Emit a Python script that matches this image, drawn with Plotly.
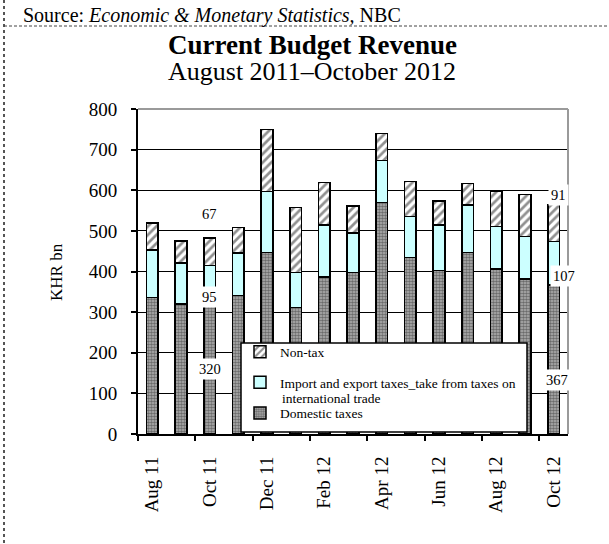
import plotly.graph_objects as go

# Monthly current budget revenue, KHR bn
months = ["Aug 11", "Sep 11", "Oct 11", "Nov 11", "Dec 11", "Jan 12", "Feb 12", "Mar 12",
          "Apr 12", "May 12", "Jun 12", "Jul 12", "Aug 12", "Sep 12", "Oct 12"]
domestic_taxes = [336, 320, 320, 341, 447, 312, 386, 398, 570, 435, 402, 447, 406, 382, 367]
trade_taxes = [117, 101, 95, 104, 150, 85, 129, 97, 103, 100, 113, 117, 105, 104, 107]
non_tax = [67, 54, 67, 63, 153, 160, 104, 66, 67, 86, 59, 53, 86, 104, 91]

# axis labels shown on every second month
tick_idx = list(range(0, len(months), 2))
tick_text = [months[i] for i in tick_idx]

W, H = 609, 544
ML, MR, MT, MB = 138, 41, 109, 110
PW, PH = W - ML - MR, H - MT - MB
SERIF = "Liberation Serif, Times New Roman, serif"


def xp(px):
    return (px - ML) / PW


def yp(py):
    return (H - MB - py) / PH


x = list(range(len(months)))
fig = go.Figure()
fig.add_bar(x=x, y=domestic_taxes, name="Domestic taxes", legendgroup="c", legendrank=3,
            marker=dict(color="#b4b4b4", line=dict(color="black", width=1.5),
                        pattern=dict(shape=".", fgcolor="#222222", size=3, solidity=0.6)))
fig.add_bar(x=x, y=trade_taxes, name="Import and export taxes_take from taxes on",
            legendgroup="b", legendrank=2,
            marker=dict(color="#ccffff", line=dict(color="black", width=1.5)))
fig.add_bar(x=x, y=non_tax, name="Non-tax", legendgroup="a", legendrank=1,
            marker=dict(color="white", line=dict(color="black", width=1.5),
                        pattern=dict(shape="/", fgcolor="#222222", bgcolor="white",
                                     size=6, solidity=0.45)))

# value labels for Oct 11 and Oct 12
annotations = []
label_font = dict(family=SERIF, size=14.5, color="black")
for i, shifts in ((2, [(0, 0), (0, -12), (0, 38)]), (14, [(3, -21), (10, -13), (5, 28)])):
    base = 0
    for val, (dx, dy) in zip((domestic_taxes[i], trade_taxes[i], non_tax[i]), shifts):
        annotations.append(dict(x=i, y=base + val / 2, text=str(val), showarrow=False,
                                xshift=dx, yshift=dy, bgcolor="white", borderpad=2,
                                font=label_font))
        base += val

# header texts
annotations += [
    dict(x=xp(21), y=yp(15), xref="paper", yref="paper", xanchor="left", yanchor="middle",
         text="Source: <i>Economic & Monetary Statistics,</i> NBC", showarrow=False,
         font=dict(family=SERIF, size=20, color="black")),
    dict(x=xp(312), y=yp(45), xref="paper", yref="paper", xanchor="center", yanchor="middle",
         text="<b>Current Budget Revenue</b>", showarrow=False,
         font=dict(family=SERIF, size=27, color="black")),
    dict(x=xp(312), y=yp(71), xref="paper", yref="paper", xanchor="center", yanchor="middle",
         text="August 2011–October 2012", showarrow=False,
         font=dict(family=SERIF, size=26, color="black")),
    dict(x=xp(56), y=yp(272), xref="paper", yref="paper", xanchor="center", yanchor="middle",
         text="KHR bn", textangle=-90, showarrow=False,
         font=dict(family=SERIF, size=17, color="black")),
    dict(x=xp(280), y=yp(398.5), xref="paper", yref="paper", xanchor="left", yanchor="middle",
         text="international trade", showarrow=False,
         font=dict(family=SERIF, size=13.5, color="black")),
]

shapes = [
    # page frame: dotted left edge, dashed rule under the source line
    dict(type="line", xref="paper", yref="paper", x0=xp(4), x1=xp(4), y0=yp(0), y1=yp(H),
         line=dict(color="#555555", width=2, dash="dot")),
    dict(type="line", xref="paper", yref="paper", x0=xp(4), x1=xp(W), y0=yp(26), y1=yp(26),
         line=dict(color="#444444", width=1, dash="3px,2px")),
    # grey plot-area border on top and right
    dict(type="line", xref="paper", yref="paper", x0=0, x1=1, y0=1, y1=1, layer="above",
         line=dict(color="#9a9a9a", width=2)),
    dict(type="line", xref="paper", yref="paper", x0=1, x1=1, y0=0, y1=1, layer="above",
         line=dict(color="#9a9a9a", width=2)),
    # legend box
    dict(type="rect", xref="paper", yref="paper", x0=xp(241), x1=xp(527), y0=yp(432), y1=yp(343),
         layer="above", fillcolor="white", line=dict(color="black", width=1.5)),
]

fig.update_layout(
    width=W, height=H, margin=dict(l=ML, r=MR, t=MT, b=MB),
    paper_bgcolor="white", plot_bgcolor="white",
    barmode="stack", bargap=0.59,
    font=dict(family=SERIF, color="black"),
    showlegend=True,
    legend=dict(x=xp(240), y=yp(336.5), xanchor="left", yanchor="top",
                bgcolor="rgba(0,0,0,0)", borderwidth=0, traceorder="grouped",
                tracegroupgap=10, font=dict(family=SERIF, size=13.5, color="black")),
    annotations=annotations, shapes=shapes,
    xaxis=dict(range=[-0.5, len(months) - 0.5], tickmode="array", tickvals=tick_idx,
               ticktext=tick_text, tickangle=-90, ticks="", ticklabelstandoff=13,
               tickfont=dict(family=SERIF, size=19, color="black"),
               showline=True, linecolor="black", linewidth=2, showgrid=False, zeroline=False,
               minor=dict(tickmode="array",
                          tickvals=[i - 0.5 for i in range(0, len(months) + 1, 2)],
                          ticks="outside", ticklen=5, tickwidth=1.5, tickcolor="black",
                          showgrid=False)),
    yaxis=dict(range=[0, 800], dtick=100, ticks="outside", ticklen=5, tickwidth=1.5,
               tickcolor="black", ticklabelstandoff=10,
               tickfont=dict(family=SERIF, size=19, color="black"),
               showline=True, linecolor="black", linewidth=2,
               showgrid=True, gridcolor="black", gridwidth=1.3, zeroline=False),
)

fig.write_html("out.html")
